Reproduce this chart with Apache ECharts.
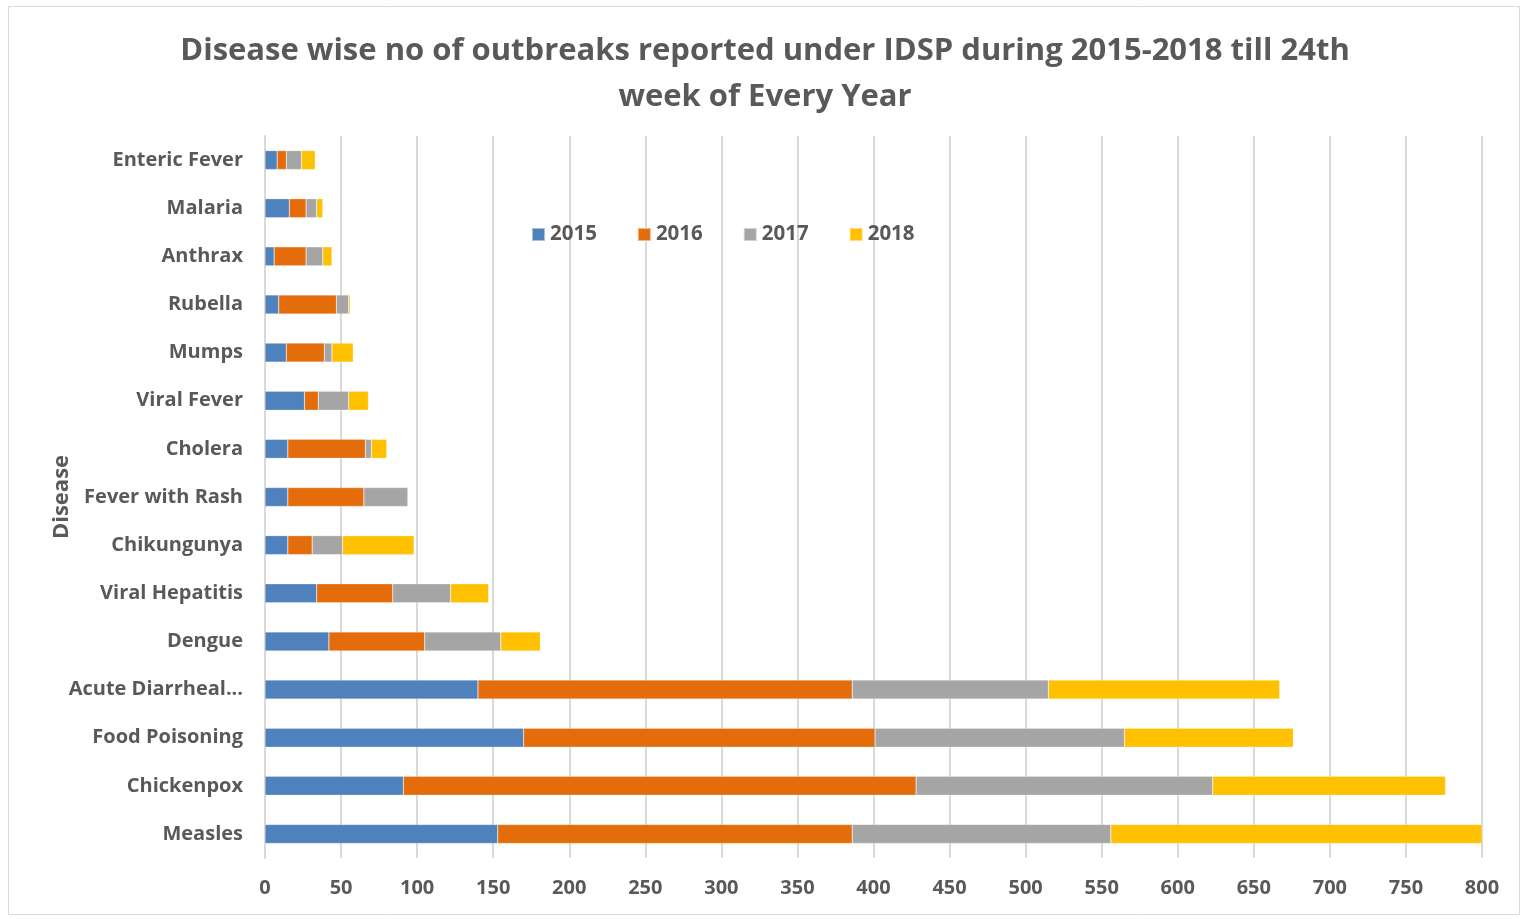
<!DOCTYPE html>
<html>
<head>
<meta charset="utf-8">
<script src="https://cdn.jsdelivr.net/npm/echarts@6/dist/echarts.min.js"></script>
<style>html,body{margin:0;padding:0;background:#fff}#c{width:1530px;height:919px}</style>
</head>
<body>
<div id="c"></div>
<script>
const categories = ["Enteric Fever","Malaria","Anthrax","Rubella","Mumps","Viral Fever","Cholera","Fever with Rash","Chikungunya","Viral Hepatitis","Dengue","Acute Diarrheal...","Food Poisoning","Chickenpox","Measles"];
const years = ["2015","2016","2017","2018"];
const v2015 = [8,16,6,9,14,26,15,15,15,34,42,140,170,91,153];
const v2016 = [6,11,21,38,25,9,51,50,16,50,63,246,231,337,233];
const v2017 = [10,7,11,8,5,20,4,29,20,38,50,129,164,195,170];
const v2018 = [9,4,6,1,14,13,10,0,47,25,26,152,111,153,244];
const xTicks = {min:0, max:800, interval:50};
const colors = ["#4F81BD","#E46C0A","#A5A5A5","#FFC000"];
const seriesData = [v2015,v2016,v2017,v2018];
const font = "'Open Sans', 'Noto Sans', sans-serif";

const chart = echarts.init(document.getElementById('c'), null, {renderer:'canvas'});
chart.setOption({
  animation:false,
  backgroundColor:'#fff',
  graphic:[{type:'rect', shape:{x:8.5,y:6.5,width:1511,height:908}, style:{fill:'none', stroke:'#d9d9d9', lineWidth:1}, silent:true}],
  title:{
    text:'Disease wise no of outbreaks reported under IDSP during 2015-2018 till 24th\nweek of Every Year',
    left:'center', top:23,
    textStyle:{fontFamily:font, fontWeight:'bold', fontSize:31, color:'#595959', lineHeight:46}
  },
  legend:{
    data:years, top:219, left:526, itemWidth:13, itemHeight:13, itemGap:40,
    icon:'rect',
    textStyle:{fontFamily:font, fontWeight:'bold', fontSize:20.5, color:'#595959'}
  },
  grid:{left:265, right:48, top:136, bottom:61, containLabel:false},
  xAxis:{
    type:'value', min:xTicks.min, max:xTicks.max, interval:xTicks.interval,
    axisLine:{show:false}, axisTick:{show:false},
    splitLine:{show:true, lineStyle:{color:'#d9d9d9', width:2}},
    axisLabel:{fontFamily:font, fontWeight:'bold', fontSize:20, color:'#595959', margin:20}
  },
  yAxis:{
    type:'category', data:categories, inverse:true,
    name:'Disease', nameLocation:'middle', nameGap:192, nameRotate:90,
    nameMoveOverlap:false,
    nameTextStyle:{fontFamily:font, fontWeight:'bold', fontSize:22, color:'#595959'},
    axisLine:{show:true, lineStyle:{color:'#d9d9d9', width:2}},
    axisTick:{show:false},
    axisLabel:{fontFamily:font, fontWeight:'bold', fontSize:20, color:'#595959', margin:22}
  },
  series: years.map((y,i)=>({
    name:y, type:'bar', stack:'total', data:seriesData[i], barWidth:19,
    itemStyle:{color:colors[i], borderColor:'rgba(255,255,255,0.5)', borderWidth:0.5}
  }))
});
</script>
</body>
</html>
